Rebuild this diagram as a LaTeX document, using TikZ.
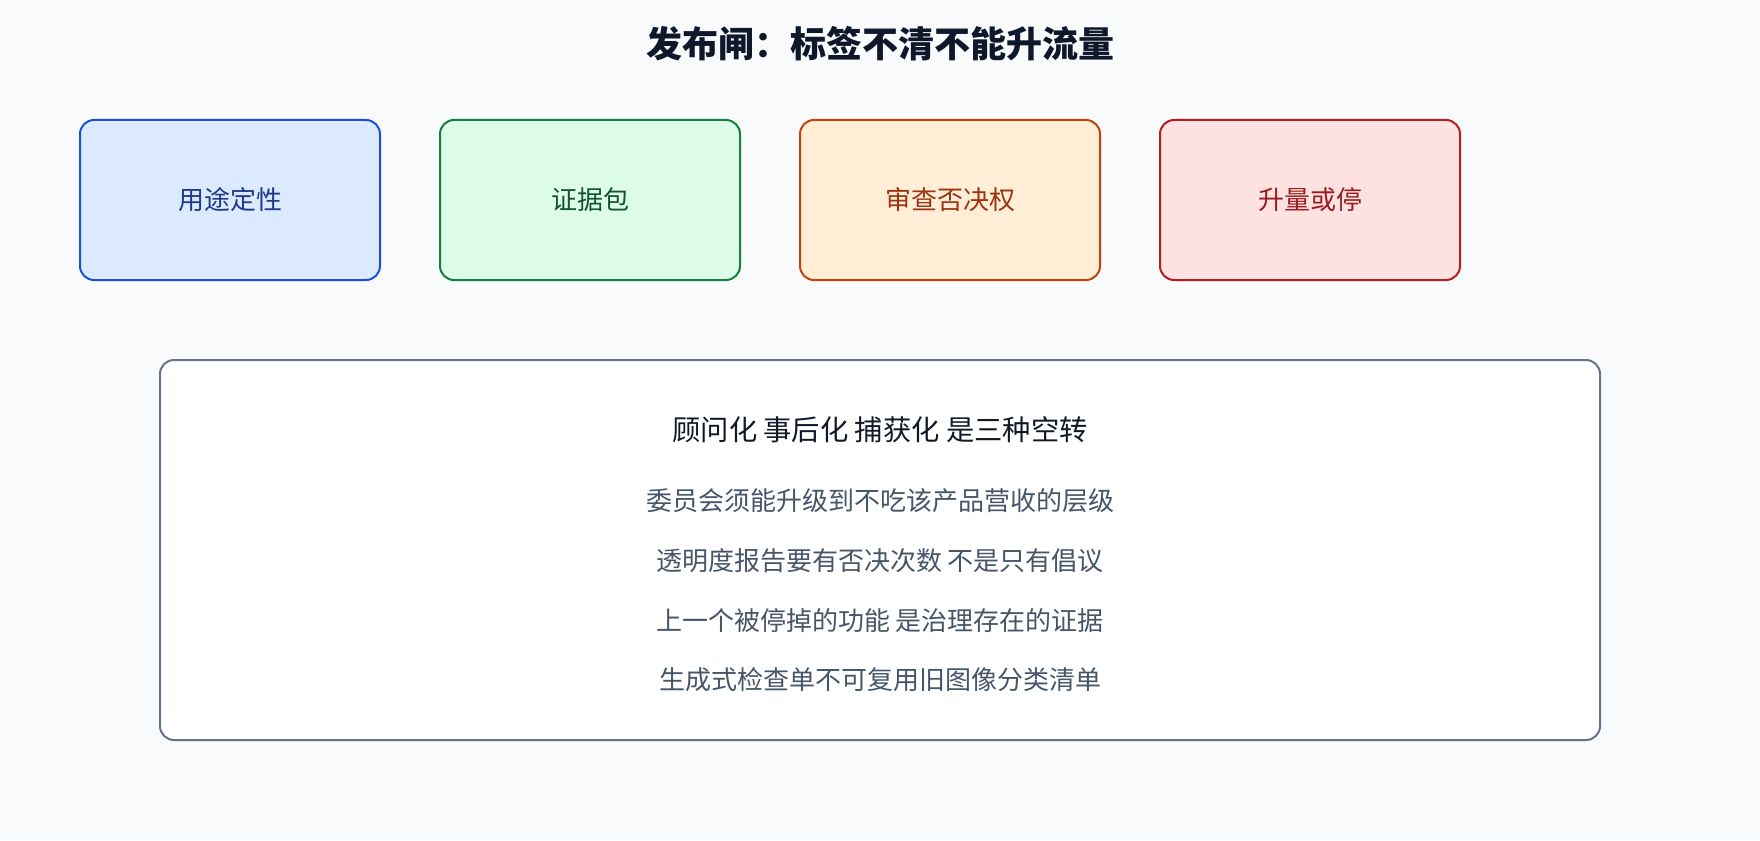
\documentclass[tikz,border=0pt]{standalone}
\usepackage{fontspec}
\setmainfont{Noto Sans CJK SC}
\usetikzlibrary{positioning}
\definecolor{bg}{HTML}{F8FAFC}
\definecolor{titlec}{HTML}{0F172A}
\definecolor{bluef}{HTML}{DBEAFE}\definecolor{blued}{HTML}{1D4ED8}\definecolor{bluet}{HTML}{1E3A8A}
\definecolor{greenf}{HTML}{DCFCE7}\definecolor{greend}{HTML}{15803D}\definecolor{greent}{HTML}{14532D}
\definecolor{orangef}{HTML}{FFEDD5}\definecolor{oranged}{HTML}{C2410C}\definecolor{oranget}{HTML}{9A3412}
\definecolor{redf}{HTML}{FEE2E2}\definecolor{redd}{HTML}{B91C1C}\definecolor{redt}{HTML}{991B1B}
\definecolor{slated}{HTML}{64748B}\definecolor{headc}{HTML}{111827}\definecolor{linec}{HTML}{475569}
\tikzset{
  stagebox/.style={draw, line width=2pt, rounded corners=14pt, minimum width=300pt, minimum height=160pt, inner sep=0pt, font=\fontsize{26}{30}\selectfont},
  notebox/.style={draw=slated, fill=white, line width=2pt, rounded corners=14pt, minimum width=1440pt, minimum height=380pt, inner sep=0pt},
  headtxt/.style={text=headc, font=\fontsize{28.3}{33}\selectfont, inner sep=0pt},
  linetxt/.style={text=linec, font=\fontsize{26}{30}\selectfont, inner sep=0pt},
}
\begin{document}
\begin{tikzpicture}[x=1pt,y=-1pt]
\fill[bg] (0,0) rectangle (1760,840);
\useasboundingbox (0,0) rectangle (1760,840);
\node[text=titlec, font=\bfseries\fontsize{36}{42}\selectfont, inner sep=0pt] (title) at (880,44) {发布闸：标签不清不能升流量};
\node[stagebox, fill=bluef, draw=blued, text=bluet] (s1) at (230,200) {用途定性};
\node[stagebox, fill=greenf, draw=greend, text=greent] (s2) at (590,200) {证据包};
\node[stagebox, fill=orangef, draw=oranged, text=oranget] (s3) at (950,200) {审查否决权};
\node[stagebox, fill=redf, draw=redd, text=redt] (s4) at (1310,200) {升量或停};
\node[notebox] (note) at (880,550) {};
\node[headtxt] (h) at (880,430) {顾问化 事后化 捕获化 是三种空转};
\node[linetxt] (l1) at (880,501) {委员会须能升级到不吃该产品营收的层级};
\node[linetxt] (l2) at (880,561) {透明度报告要有否决次数 不是只有倡议};
\node[linetxt] (l3) at (880,621) {上一个被停掉的功能 是治理存在的证据};
\node[linetxt] (l4) at (880,680) {生成式检查单不可复用旧图像分类清单};
\end{tikzpicture}
\end{document}
